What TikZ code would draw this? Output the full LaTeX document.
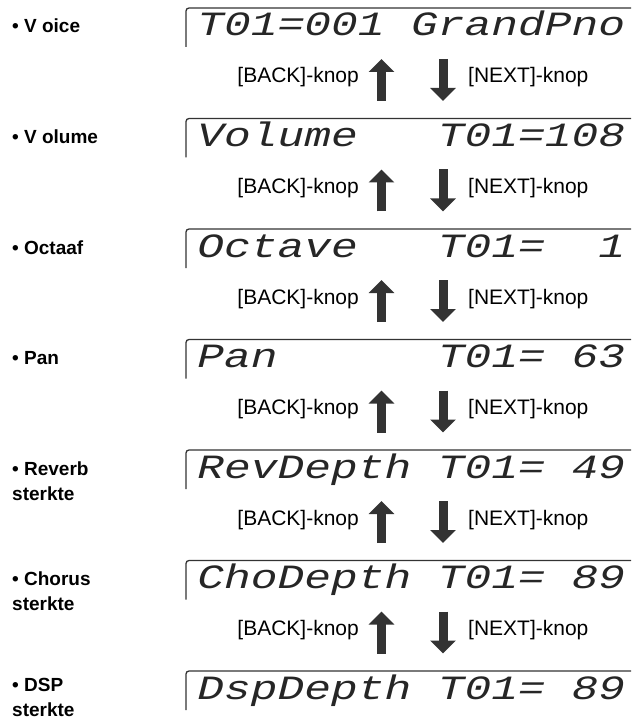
\documentclass[tikz,border=0pt]{standalone}
\usepackage{fontspec}
\setmainfont{Liberation Sans}
\newfontfamily\lcdfont[FakeSlant=0.25,FakeStretch=1.31]{Liberation Mono}
\usetikzlibrary{arrows.meta}

\begin{document}
\begin{tikzpicture}[x=1pt, y=-1pt,
    item/.style = {anchor=base west, inner sep=0pt, align=left, font=\fontsize{19}{25}\selectfont\bfseries},
    lcd/.style = {anchor=base west, inner sep=0pt, text=black!85, font=\lcdfont\fontsize{34}{34}\selectfont},
    knop/.style = {inner sep=0pt, font=\fontsize{21}{25}\selectfont},
    lcdframe/.style = {draw=black!80, line width=1.3pt, rounded corners=3pt},
    knoparrow/.style = {draw=black!80, line width=9pt, -{Triangle[width=25pt,length=13pt]}}]
    \useasboundingbox (0,0) rectangle (631,719);

    % parameter names (two-line names sit on their last line)
    \node[item] (l1) at (12,33) {• V oice};
    \node[item] (l2) at (12,143.5) {• V olume};
    \node[item] (l3) at (12,254) {• Octaaf};
    \node[item] (l4) at (12,364.5) {• Pan};
    \node[item] (l5) at (12,500) {• Reverb\\sterkte};
    \node[item] (l6) at (12,610.5) {• Chorus\\sterkte};
    \node[item] (l7) at (12,716) {• DSP\\sterkte};

    % display texts
    \node[lcd] (d1) at (195,36) {T01=001~GrandPno};
    \node[lcd] (d2) at (195,146.5) {Volume~~~T01=108};
    \node[lcd] (d3) at (195,257) {Octave~~~T01=~~1};
    \node[lcd] (d4) at (195,367.5) {Pan~~~~~~T01=~63};
    \node[lcd] (d5) at (195,478) {RevDepth~T01=~49};
    \node[lcd] (d6) at (195,588.5) {ChoDepth~T01=~89};
    \node[lcd] (d7) at (195,699) {DspDepth~T01=~89};

    \foreach \i in {0,...,6} {
        \pgfmathsetmacro\t{8+110.5*\i}
        \draw[lcdframe] (631,\t) -- (186,\t) -- (186,{\t+39});
    }

    % BACK / NEXT steps
    \foreach \i in {0,...,5} {
        \pgfmathsetmacro\t{8+110.5*\i}
        \node[knop, anchor=base east] (back\i) at (359,{\t+75}) {[BACK]-knop};
        \node[knop, anchor=base west] (next\i) at (468,{\t+75}) {[NEXT]-knop};
        \coordinate (ub\i) at (381.5,{\t+93});
        \coordinate (ut\i) at (381.5,{\t+51});
        \coordinate (dt\i) at (443,{\t+51});
        \coordinate (db\i) at (443,{\t+93});
        \draw[knoparrow] (ub\i) -- (ut\i);
        \draw[knoparrow] (dt\i) -- (db\i);
    }
\end{tikzpicture}
\end{document}
